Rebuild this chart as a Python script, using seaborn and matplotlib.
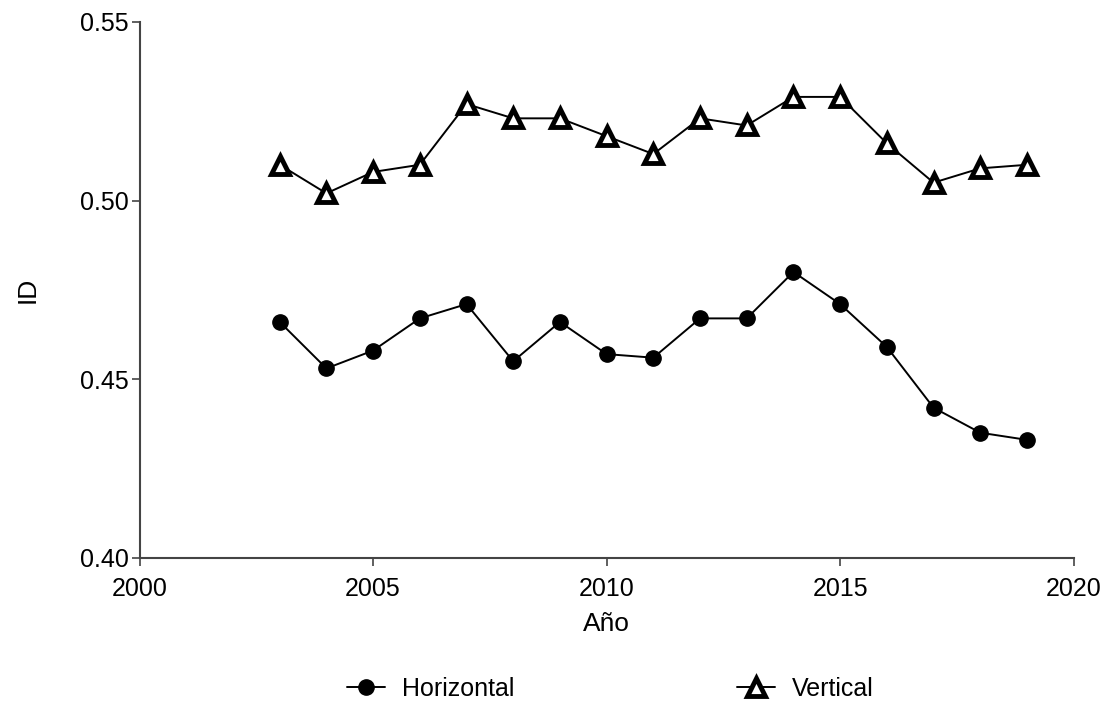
import matplotlib
matplotlib.use("Agg")
import matplotlib.pyplot as plt
import seaborn as sns
import pandas as pd
from matplotlib.lines import Line2D

years = [2003, 2004, 2005, 2006, 2007, 2008, 2009, 2010, 2011,
         2012, 2013, 2014, 2015, 2016, 2017, 2018, 2019]
horizontal = [0.466, 0.453, 0.458, 0.467, 0.471, 0.455, 0.466, 0.457, 0.456,
              0.467, 0.467, 0.480, 0.471, 0.459, 0.442, 0.435, 0.433]
vertical = [0.510, 0.502, 0.508, 0.510, 0.527, 0.523, 0.523, 0.518, 0.513,
            0.523, 0.521, 0.529, 0.529, 0.516, 0.505, 0.509, 0.510]
x_ticks = [2000, 2005, 2010, 2015, 2020]
y_ticks = [0.40, 0.45, 0.50, 0.55]

sns.set_theme(style="ticks")
plt.rcParams["font.family"] = ["Liberation Sans", "DejaVu Sans"]
plt.rcParams["text.color"] = "black"
plt.rcParams["axes.labelcolor"] = "black"

df = pd.DataFrame({"Año": years, "Horizontal": horizontal, "Vertical": vertical})

fig = plt.figure(figsize=(11.08, 7.06), dpi=100)
ax = fig.add_axes([0.126, 0.21, 0.843, 0.759])

sns.lineplot(data=df, x="Año", y="Horizontal", ax=ax, color="black",
             linewidth=1.4, marker="o", markersize=11,
             markerfacecolor="black", markeredgecolor="black", markeredgewidth=1)
sns.lineplot(data=df, x="Año", y="Vertical", ax=ax, color="black",
             linewidth=1.4, marker="^", markersize=12.5,
             markerfacecolor="white", markeredgecolor="black", markeredgewidth=3.5)

ax.set_xlim(2000, 2020)
ax.set_ylim(0.40, 0.55)
ax.set_xticks(x_ticks)
ax.set_yticks(y_ticks)
ax.set_yticklabels([f"{v:.2f}" for v in y_ticks])
ax.tick_params(axis="both", labelsize=18, length=6, width=1.2,
               color="#444444", labelcolor="black", pad=2)
ax.tick_params(axis="x", pad=8)
for side in ("left", "bottom"):
    ax.spines[side].set_color("#444444")
    ax.spines[side].set_linewidth(1.5)
sns.despine(ax=ax)

ax.set_xlabel("Año", fontsize=19, labelpad=8, color="black")
ax.set_ylabel("ID", fontsize=19, labelpad=29, color="black")

handles = [
    Line2D([], [], color="black", linewidth=1.4, marker="o", markersize=11,
           markerfacecolor="black", markeredgecolor="black"),
    Line2D([], [], color="black", linewidth=1.4, marker="^", markersize=12.5,
           markerfacecolor="white", markeredgecolor="black", markeredgewidth=3.5),
]
leg = fig.legend(handles, ["Horizontal", "Vertical"], loc="lower center",
                 bbox_to_anchor=(0.551, -0.025), ncol=2, frameon=False, fontsize=18,
                 handlelength=1.5, columnspacing=8.9, handletextpad=0.7)
for t in leg.get_texts():
    t.set_color("black")

fig.savefig("out.png", dpi=100, facecolor="white")
